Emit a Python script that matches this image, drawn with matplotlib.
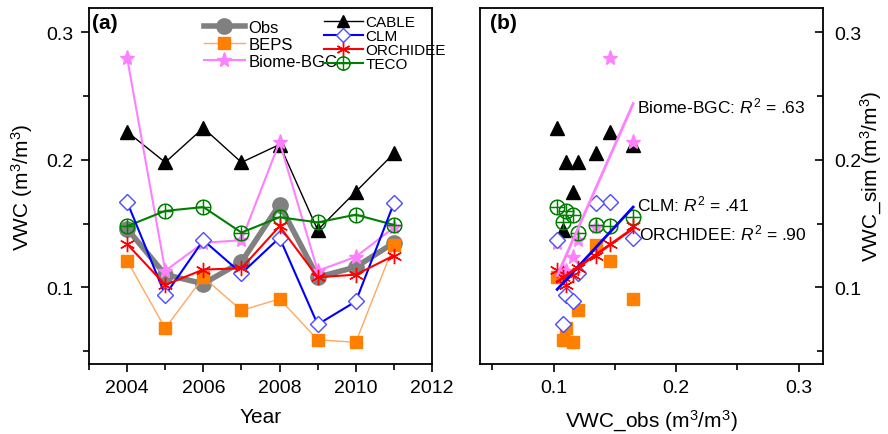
import numpy as np
import matplotlib
matplotlib.use("Agg")
import matplotlib.pyplot as plt

plt.rcParams['font.family'] = ['Liberation Sans', 'DejaVu Sans']
plt.rcParams['mathtext.fontset'] = 'custom'
plt.rcParams['mathtext.rm'] = 'Liberation Sans'
plt.rcParams['mathtext.it'] = 'Liberation Sans:italic'

years = [2004, 2005, 2006, 2007, 2008, 2009, 2010, 2011]
obs = [0.146, 0.110, 0.103, 0.120, 0.165, 0.108, 0.116, 0.135]
beps = [0.121, 0.068, 0.108, 0.082, 0.091, 0.059, 0.057, 0.133]
biome = [0.280, 0.113, 0.135, 0.137, 0.214, 0.113, 0.124, 0.147]
cable = [0.222, 0.198, 0.225, 0.198, 0.212, 0.145, 0.175, 0.205]
clm = [0.167, 0.094, 0.137, 0.111, 0.139, 0.071, 0.089, 0.166]
orchidee = [0.134, 0.102, 0.114, 0.115, 0.148, 0.108, 0.110, 0.125]
teco = [0.148, 0.160, 0.163, 0.143, 0.155, 0.151, 0.157, 0.149]

fit_labels = {"Biome-BGC": ".63", "CLM": ".41", "ORCHIDEE": ".90"}

W, H = 888, 435
fig = plt.figure(figsize=(W / 100, H / 100), dpi=100)
axa = fig.add_axes([89 / W, (H - 365) / H, (432 - 89) / W, (365 - 9) / H])
axb = fig.add_axes([480 / W, (H - 365) / H, (823 - 480) / W, (365 - 9) / H])

ORANGE = '#ff7f00'
ORANGE_L = '#ffa860'
VIOLET = '#ff80ff'
BLUE = '#0000ff'
BLUE_M = '#4b4bff'
RED = '#ff0000'
GREEN = '#008000'
GRAY = '#808080'
asterisk = (6, 2, 0)

styles = {
    "Obs": dict(color=GRAY, lw=4, marker='o', ms=11, mfc=GRAY, mec=GRAY),
    "BEPS": dict(color=ORANGE_L, lw=1, marker='s', ms=8, mfc=ORANGE, mec=ORANGE),
    "Biome-BGC": dict(color=VIOLET, lw=1.5, marker='*', ms=11, mfc=VIOLET, mec=VIOLET),
    "CABLE": dict(color='black', lw=1, marker='^', ms=10, mfc='black', mec='black'),
    "CLM": dict(color=BLUE, lw=1.5, marker='D', ms=8, mfc='white', mec=BLUE_M, mew=1),
    "ORCHIDEE": dict(color=RED, lw=1.5, marker=asterisk, ms=11, mfc=RED, mec=RED, mew=1),
    "TECO": dict(color=GREEN, lw=1.5, marker=r'$\oplus$', ms=11, mfc=GREEN, mec=GREEN, mew=0.6),
}
series = {"Obs": obs, "BEPS": beps, "Biome-BGC": biome, "CABLE": cable,
          "CLM": clm, "ORCHIDEE": orchidee, "TECO": teco}

draw_order = ["Obs", "CABLE", "BEPS", "Biome-BGC", "TECO", "CLM", "ORCHIDEE"]
handles = {}
for name in draw_order:
    h, = axa.plot(years, series[name], label=name, **styles[name])
    handles[name] = h

axa.set_xlim(2003, 2012)
axa.set_ylim(0.04, 0.319)
axa.set_xticks([2004, 2006, 2008, 2010, 2012])
axa.set_xticks(np.arange(2003, 2012, 1), minor=True)
axa.set_yticks([0.1, 0.2, 0.3])
axa.set_yticks([0.05, 0.15, 0.25], minor=True)
axa.set_yticklabels(['0.1', '0.2', '0.3'])
axa.tick_params(axis='both', which='major', direction='out', length=6, width=1.2, labelsize=14, pad=5)
axa.tick_params(axis='both', which='minor', direction='out', length=4, width=1.2)
axa.set_xlabel('Year', fontsize=15, labelpad=8)
axa.set_ylabel('VWC (m$^3$/m$^3$)', fontsize=15, labelpad=8)
axa.text(0.01, 0.985, '(a)', transform=axa.transAxes, fontsize=15, fontweight='bold', va='top', ha='left')

leg1 = axa.legend([handles[n] for n in ["Obs", "BEPS", "Biome-BGC"]], ["Obs", "BEPS", "Biome-BGC"],
                  loc='upper left', bbox_to_anchor=(0.3, 1.0), frameon=False, fontsize=12,
                  handlelength=2.5, handletextpad=0.2, labelspacing=0.12, borderaxespad=0.3)
axa.add_artist(leg1)
axa.legend([handles[n] for n in ["CABLE", "CLM", "ORCHIDEE", "TECO"]], ["CABLE", "CLM", "ORCHIDEE", "TECO"],
           loc='upper left', bbox_to_anchor=(0.655, 1.01), frameon=False, fontsize=11,
           handlelength=2.5, handletextpad=0.2, labelspacing=0.0, borderaxespad=0.3, markerscale=0.9)

# right panel scatter
for name in ["CABLE", "BEPS", "Biome-BGC", "TECO", "CLM", "ORCHIDEE"]:
    st = dict(styles[name])
    st.pop('lw')
    st['ls'] = 'none'
    axb.plot(obs, series[name], **st)

ob = np.array(obs)
xr = np.array([ob.min(), ob.max()])
fit_colors = {"Biome-BGC": VIOLET, "CLM": BLUE, "ORCHIDEE": RED}
text_pos = {"Biome-BGC": (0.168, 0.243), "CLM": (0.168, 0.166), "ORCHIDEE": (0.170, 0.143)}
for name, r2 in fit_labels.items():
    k, b = np.polyfit(ob, np.array(series[name]), 1)
    axb.plot(xr, k * xr + b, color=fit_colors[name], lw=2)
    tx, ty = text_pos[name]
    axb.text(tx, ty, name + ': $R^2$ = ' + r2, fontsize=12.5, va='center', ha='left')

axb.set_xlim(0.04, 0.32)
axb.set_ylim(0.04, 0.319)
axb.set_xticks([0.1, 0.2, 0.3])
axb.set_xticklabels(['0.1', '0.2', '0.3'])
axb.set_xticks([0.05, 0.15, 0.25], minor=True)
axb.set_yticks([0.1, 0.2, 0.3])
axb.set_yticklabels(['0.1', '0.2', '0.3'])
axb.set_yticks([0.05, 0.15, 0.25], minor=True)
axb.yaxis.tick_right()
axb.yaxis.set_label_position('right')
axb.tick_params(axis='x', which='major', direction='out', length=6, width=1.2, labelsize=14, pad=5)
axb.tick_params(axis='x', which='minor', direction='out', length=4, width=1.2)
axb.tick_params(axis='y', which='major', direction='in', length=6, width=1.2, labelsize=14, pad=8)
axb.tick_params(axis='y', which='minor', direction='in', length=4, width=1.2)
axb.set_xlabel('VWC_obs (m$^3$/m$^3$)', fontsize=15, labelpad=8)
axb.set_ylabel('VWC_sim (m$^3$/m$^3$)', fontsize=15)
axb.yaxis.set_label_coords(1.105, 0.53)
axb.text(0.03, 0.985, '(b)', transform=axb.transAxes, fontsize=15, fontweight='bold', va='top', ha='left')

for ax in (axa, axb):
    for sp in ax.spines.values():
        sp.set_linewidth(1.3)

fig.savefig('out.png', dpi=100)
